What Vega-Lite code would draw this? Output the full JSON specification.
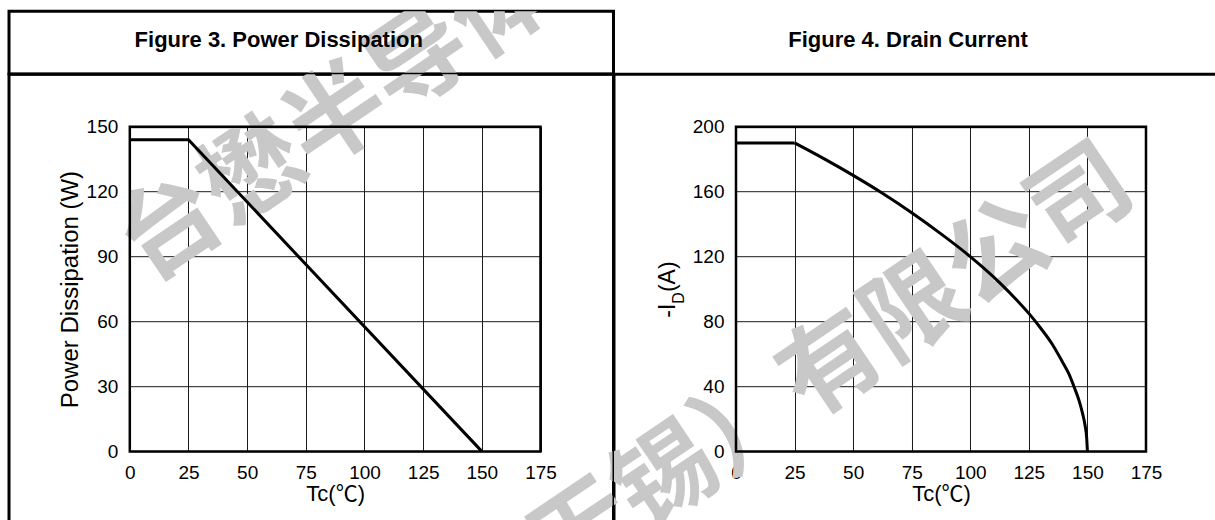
{
  "$schema": "https://vega.github.io/schema/vega-lite/v6.json",
  "background": "white",
  "padding": {"left": 7, "top": 9.2, "right": 0, "bottom": 0},
  "bounds": "flush",
  "spacing": 0,
  "columns": 2,
  "concat": [
    {
      "width": 604.5,
      "height": 62.8,
      "layer": [
        {
          "data": {"values": [{"wm": "台懋半导体（无锡）有限公司"}]},
          "mark": {"type": "text", "font": "Noto Sans CJK SC", "fontSize": 100, "fontWeight": "bold", "angle": 326, "align": "left", "baseline": "middle", "color": "#c8c8c8", "blend": "multiply", "clip": true},
          "encoding": {
            "text": {"field": "wm"},
            "x": {"datum": 0.34, "type": "quantitative", "axis": null, "scale": {"domain": [0, 175], "range": [120.8, 531.5], "nice": false, "zero": false}},
            "y": {"datum": 88.93, "type": "quantitative", "axis": null, "scale": {"domain": [0, 150], "range": [440, 115.3], "nice": false, "zero": false}}
          }
        },
        {
          "data": {"values": [{"t": "Figure 3. Power Dissipation"}]},
          "mark": {"type": "text", "font": "Liberation Sans", "fontSize": 22, "fontWeight": "bold", "color": "black", "align": "center", "baseline": "middle", "dx": -32.5, "dy": -3},
          "encoding": {"text": {"field": "t"}}
        }
      ]
    },
    {
      "width": 604,
      "height": 62.8,
      "data": {"values": [{"t": "Figure 4. Drain Current"}]},
      "mark": {"type": "text", "font": "Liberation Sans", "fontSize": 22, "fontWeight": "bold", "color": "black", "align": "center", "baseline": "middle", "dx": -8, "dy": -3},
      "encoding": {"text": {"field": "t"}}
    },
    {
      "width": 604.5,
      "height": 448.5,
      "layer": [
        {
          "data": {"values": [{"wm": "台懋半导体（无锡）有限公司"}]},
          "mark": {"type": "text", "font": "Noto Sans CJK SC", "fontSize": 100, "fontWeight": "bold", "angle": 326, "align": "left", "baseline": "middle", "color": "#c8c8c8", "blend": "multiply", "clip": true},
          "encoding": {
            "text": {"field": "wm"},
            "x": {"datum": 0.34, "type": "quantitative", "scale": {"domain": [0, 175], "range": [120.8, 531.5], "nice": false, "zero": false}},
            "y": {"datum": 88.93, "type": "quantitative", "scale": {"domain": [0, 150], "range": [377.2, 52.5], "nice": false, "zero": false}}
          }
        },
        {
          "data": {"values": [{"wm": "台懋半导体（无锡）有限公司"}]},
          "mark": {"type": "text", "font": "Noto Sans CJK SC", "fontSize": 100, "fontWeight": "bold", "angle": 326, "align": "left", "baseline": "middle", "color": "#c8c8c8", "blend": "multiply", "clip": true},
          "encoding": {
            "text": {"field": "wm"},
            "x": {"datum": -36.09, "type": "quantitative", "scale": {"domain": [0, 175], "range": [120.8, 531.5], "nice": false, "zero": false}},
            "y": {"datum": -206.54, "type": "quantitative", "scale": {"domain": [0, 150], "range": [377.2, 52.5], "nice": false, "zero": false}}
          }
        },
        {
          "data": {"values": [{}]},
          "mark": {"type": "rect", "fill": null, "fillOpacity": 0, "stroke": "black", "strokeWidth": 2.5},
          "encoding": {
            "x": {"datum": 0, "type": "quantitative", "scale": {"domain": [0, 175], "range": [120.8, 531.5], "nice": false, "zero": false}},
            "x2": {"datum": 175},
            "y": {"datum": 0, "type": "quantitative", "scale": {"domain": [0, 150], "range": [377.2, 52.5], "nice": false, "zero": false}},
            "y2": {"datum": 150}
          }
        },
        {
          "data": {"values": [
            {"tc": 0, "p": 144},
            {"tc": 25, "p": 144},
            {"tc": 150, "p": 0}
          ]},
          "mark": {"type": "line", "color": "black", "strokeWidth": 3},
          "encoding": {
            "x": {"field": "tc", "type": "quantitative",
              "scale": {"domain": [0, 175], "range": [120.8, 531.5], "nice": false, "zero": false},
              "axis": {"orient": "bottom", "offset": -71.3, "values": [0, 25, 50, 75, 100, 125, 150, 175], "tickSize": -324.7, "labelPadding": 336.7, "title": "Tc(℃)", "titlePadding": 1}},
            "y": {"field": "p", "type": "quantitative",
              "scale": {"domain": [0, 150], "range": [377.2, 52.5], "nice": false, "zero": false},
              "axis": {"orient": "left", "offset": -120.8, "values": [0, 30, 60, 90, 120, 150], "tickSize": -410.7, "labelPadding": 422.7, "title": "Power Dissipation (W)", "titleFontSize": 24, "titlePadding": 4}}
          }
        }
      ]
    },
    {
      "width": 604,
      "height": 448.5,
      "layer": [
        {
          "data": {"values": [{"wm": "台懋半导体（无锡）有限公司"}]},
          "mark": {"type": "text", "font": "Noto Sans CJK SC", "fontSize": 100, "fontWeight": "bold", "angle": 326, "align": "left", "baseline": "middle", "color": "#c8c8c8", "blend": "multiply", "clip": true},
          "encoding": {
            "text": {"field": "wm"},
            "x": {"datum": -294.68, "type": "quantitative", "scale": {"domain": [0, 175], "range": [122, 532], "nice": false, "zero": false}},
            "y": {"datum": -275.39, "type": "quantitative", "scale": {"domain": [0, 200], "range": [377.2, 52.5], "nice": false, "zero": false}}
          }
        },
        {
          "data": {"values": [{}]},
          "mark": {"type": "rect", "fill": null, "fillOpacity": 0, "stroke": "black", "strokeWidth": 2.5},
          "encoding": {
            "x": {"datum": 0, "type": "quantitative", "scale": {"domain": [0, 175], "range": [122, 532], "nice": false, "zero": false}},
            "x2": {"datum": 175},
            "y": {"datum": 0, "type": "quantitative", "scale": {"domain": [0, 200], "range": [377.2, 52.5], "nice": false, "zero": false}},
            "y2": {"datum": 200}
          }
        },
        {
          "data": {"values": [
            {"seg": "flat", "tc": 0, "id": 190},
            {"seg": "flat", "tc": 25, "id": 190},
            {"seg": "derated", "tc": 25, "id": 190},
            {"seg": "derated", "tc": 37.5, "id": 180.3},
            {"seg": "derated", "tc": 50, "id": 170},
            {"seg": "derated", "tc": 62.5, "id": 159},
            {"seg": "derated", "tc": 75, "id": 147},
            {"seg": "derated", "tc": 87.5, "id": 134},
            {"seg": "derated", "tc": 100, "id": 120},
            {"seg": "derated", "tc": 112.5, "id": 104},
            {"seg": "derated", "tc": 120, "id": 93},
            {"seg": "derated", "tc": 125, "id": 85},
            {"seg": "derated", "tc": 130, "id": 76},
            {"seg": "derated", "tc": 135, "id": 66},
            {"seg": "derated", "tc": 139, "id": 56},
            {"seg": "derated", "tc": 142, "id": 48},
            {"seg": "derated", "tc": 144.5, "id": 39},
            {"seg": "derated", "tc": 146.5, "id": 31},
            {"seg": "derated", "tc": 148, "id": 23},
            {"seg": "derated", "tc": 149, "id": 16},
            {"seg": "derated", "tc": 149.7, "id": 8},
            {"seg": "derated", "tc": 150, "id": 0}
          ]},
          "mark": {"type": "line", "color": "black", "strokeWidth": 3, "interpolate": "monotone"},
          "encoding": {
            "detail": {"field": "seg", "type": "nominal"},
            "x": {"field": "tc", "type": "quantitative",
              "scale": {"domain": [0, 175], "range": [122, 532], "nice": false, "zero": false},
              "axis": {"orient": "bottom", "offset": -71.3, "values": [0, 25, 50, 75, 100, 125, 150, 175], "tickSize": -324.7, "labelPadding": 336.7, "title": "Tc(℃)", "titlePadding": 1}},
            "y": {"field": "id", "type": "quantitative",
              "scale": {"domain": [0, 200], "range": [377.2, 52.5], "nice": false, "zero": false},
              "axis": {"orient": "left", "offset": -122, "values": [0, 40, 80, 120, 160, 200], "tickSize": -410, "labelPadding": 422, "title": null}}
          }
        },
        {
          "data": {"values": [{"t": "-I"}]},
          "mark": {"type": "text", "font": "Liberation Sans", "fontSize": 23, "color": "black", "angle": 270, "align": "right", "baseline": "alphabetic"},
          "encoding": {
            "text": {"field": "t"},
            "x": {"datum": -26.04, "type": "quantitative", "scale": {"domain": [0, 175], "range": [122, 532], "nice": false, "zero": false}},
            "y": {"datum": 90.98, "type": "quantitative", "scale": {"domain": [0, 200], "range": [377.2, 52.5], "nice": false, "zero": false}}
          }
        },
        {
          "data": {"values": [{"t": "D"}]},
          "mark": {"type": "text", "font": "Liberation Sans", "fontSize": 16, "color": "black", "angle": 270, "align": "left", "baseline": "middle"},
          "encoding": {
            "text": {"field": "t"},
            "x": {"datum": -24.33, "type": "quantitative", "scale": {"domain": [0, 175], "range": [122, 532], "nice": false, "zero": false}},
            "y": {"datum": 90.98, "type": "quantitative", "scale": {"domain": [0, 200], "range": [377.2, 52.5], "nice": false, "zero": false}}
          }
        },
        {
          "data": {"values": [{"t": "(A)"}]},
          "mark": {"type": "text", "font": "Liberation Sans", "fontSize": 23, "color": "black", "angle": 270, "align": "left", "baseline": "alphabetic"},
          "encoding": {
            "text": {"field": "t"},
            "x": {"datum": -26.04, "type": "quantitative", "scale": {"domain": [0, 175], "range": [122, 532], "nice": false, "zero": false}},
            "y": {"datum": 98.12, "type": "quantitative", "scale": {"domain": [0, 200], "range": [377.2, 52.5], "nice": false, "zero": false}}
          }
        }
      ]
    }
  ],
  "config": {
    "font": "Liberation Sans",
    "view": {"stroke": "black", "strokeWidth": 3},
    "axis": {
      "labelFont": "Liberation Sans",
      "labelFontSize": 19,
      "labelColor": "black",
      "titleFont": "Liberation Sans, Noto Sans CJK SC",
      "titleFontSize": 22,
      "titleFontWeight": "normal",
      "titleColor": "black",
      "labelFlush": false,
      "labelOverlap": false,
      "grid": false,
      "domain": false,
      "ticks": true,
      "tickColor": "#1a1a1a",
      "tickWidth": 1
    }
  }
}
